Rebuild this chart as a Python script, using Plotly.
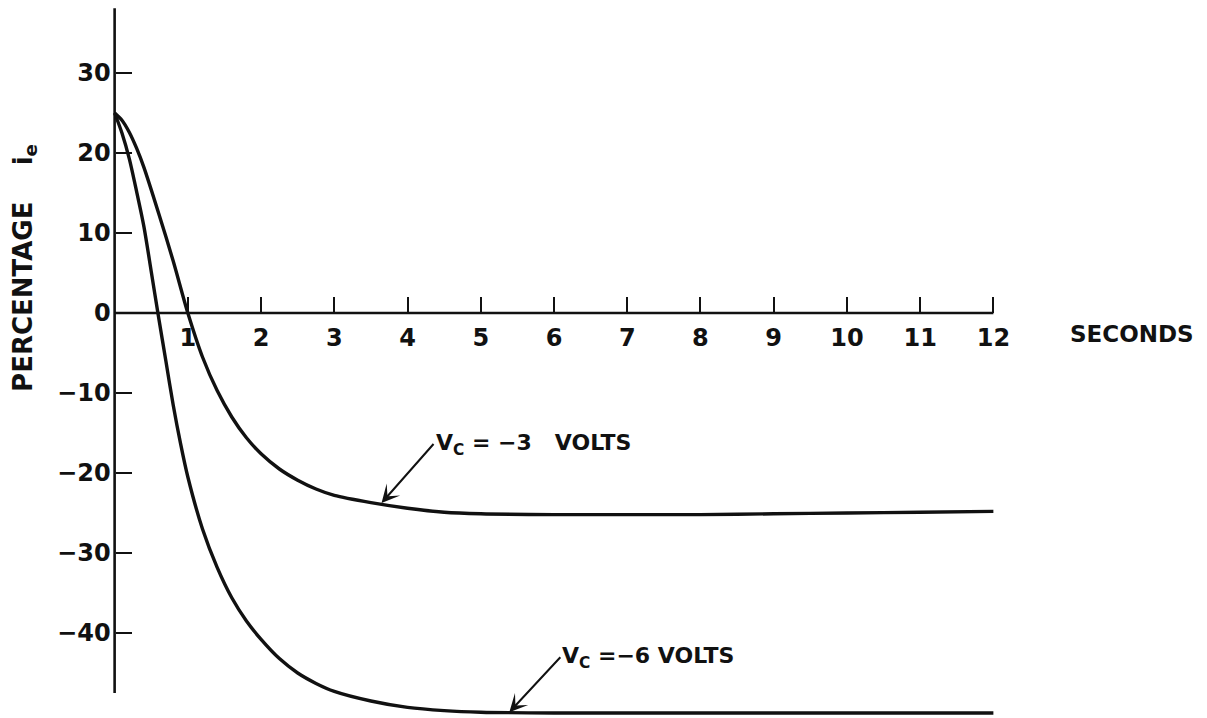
import plotly.graph_objects as go

# Emitter current change (percent) versus time after switching, two control voltages
t_minus3 = [0, 0.1, 0.2, 0.3, 0.4, 0.6, 0.8, 1.0, 1.2, 1.4, 1.6, 1.8, 2.0, 2.25, 2.5,
            2.75, 3.0, 3.5, 4.0, 4.5, 5, 6, 7, 8, 9, 10, 11, 12]
ie_minus3 = [25, 24.1, 22.6, 20.6, 18.2, 12.5, 6.5, 0, -5.5, -9.7, -13, -15.6, -17.6,
             -19.5, -20.9, -22, -22.8, -23.7, -24.4, -24.9, -25.1, -25.2, -25.2, -25.2,
             -25.1, -25.0, -24.9, -24.8]

t_minus6 = [0, 0.1, 0.2, 0.3, 0.4, 0.5, 0.6, 0.7, 0.8, 0.9, 1.0, 1.2, 1.4, 1.6, 1.8,
            2.0, 2.25, 2.5, 2.75, 3.0, 3.5, 4.0, 4.5, 5, 6, 8, 10, 12]
ie_minus6 = [25, 22.5, 19.3, 15.2, 10.8, 5.2, -0.5, -6.0, -11.5, -16.3, -20.5, -27.0,
             -31.8, -35.6, -38.5, -40.8, -43.2, -45.0, -46.3, -47.3, -48.5, -49.3,
             -49.7, -49.9, -50, -50, -50, -50]

x_ticks = [1, 2, 3, 4, 5, 6, 7, 8, 9, 10, 11, 12]
x_ticktext = ["1", "2", "3", "4", "5", "6", "7", "8", "9", "10", "11", "12"]
y_ticks = [-40, -30, -20, -10, 0, 10, 20, 30]
y_ticktext = ["\u221240", "\u221230", "\u221220", "\u221210", "0", "10", "20", "30"]

# points on each curve that the labels point at
pointer_minus3 = (3.645, -23.75)
pointer_minus6 = (5.39, -49.9)

X_RANGE = [-0.5, 12.5]
Y_RANGE = [-50.625, 38.25]

INK = "#111111"
FONT = "DejaVu Sans"

fig = go.Figure()
for tx, vy in ((t_minus3, ie_minus3), (t_minus6, ie_minus6)):
    fig.add_trace(go.Scatter(
        x=tx, y=vy, mode="lines",
        line=dict(color=INK, width=3.4, shape="spline", smoothing=0.8),
        showlegend=False, hoverinfo="skip",
    ))

# axis lines: time axis along zero, current axis at t = 0
fig.add_shape(type="line", x0=0, x1=12, y0=0, y1=0, xref="x", yref="y",
              line=dict(color=INK, width=2.6))
fig.add_shape(type="line", x0=0, x1=0, y0=-47.5, y1=38.1, xref="x", yref="y",
              line=dict(color=INK, width=2.6))

# curve labels with pointer arrows
lbl_font = dict(family=FONT, size=22, color=INK, weight="bold")
fig.add_annotation(x=pointer_minus3[0], y=pointer_minus3[1], ax=52, ay=-59,
                   xanchor="left", yanchor="middle",
                   text="V<sub>C</sub> = \u22123\u00a0\u00a0\u00a0VOLTS", font=lbl_font,
                   showarrow=True, arrowhead=3, arrowsize=1.5, arrowwidth=2.0,
                   arrowcolor=INK)
fig.add_annotation(x=pointer_minus6[0], y=pointer_minus6[1], ax=51, ay=-55,
                   xanchor="left", yanchor="middle",
                   text="V<sub>C</sub> =\u22126 VOLTS", font=lbl_font,
                   showarrow=True, arrowhead=3, arrowsize=1.5, arrowwidth=2.0,
                   arrowcolor=INK)

fig.add_annotation(x=1.107, y=0.540, xref="paper", yref="paper",
                   xanchor="center", yanchor="middle", showarrow=False,
                   text="SECONDS", font=dict(family=FONT, size=23, color=INK, weight="bold"))
fig.add_annotation(x=-0.0557, y=0.633, xref="paper", yref="paper",
                   xanchor="center", yanchor="middle", showarrow=False,
                   textangle=-90,
                   text="PERCENTAGE\u00a0\u00a0\u00a0\u00a0i<sub>e</sub>",
                   font=dict(family=FONT, size=26, color=INK, weight="bold"))

tick_font = dict(family=FONT, size=24, color=INK, weight="bold")
fig.update_layout(
    width=1207, height=718,
    margin=dict(l=78, r=177, t=7, b=0),
    paper_bgcolor="white", plot_bgcolor="white",
    xaxis=dict(range=X_RANGE, anchor="free",
               position=(0 - Y_RANGE[0]) / (Y_RANGE[1] - Y_RANGE[0]),
               showgrid=False, zeroline=False, showline=False,
               ticks="inside", ticklen=16, tickwidth=2.4, tickcolor=INK,
               tickvals=x_ticks, ticktext=x_ticktext, tickfont=tick_font,
               ticklabelstandoff=8),
    yaxis=dict(range=Y_RANGE, anchor="free",
               position=(0 - X_RANGE[0]) / (X_RANGE[1] - X_RANGE[0]),
               showgrid=False, zeroline=False, showline=False,
               ticks="inside", ticklen=16, tickwidth=2.4, tickcolor=INK,
               tickvals=y_ticks, ticktext=y_ticktext, tickfont=tick_font,
               ticklabelstandoff=4),
)

fig.write_html("out.html")
